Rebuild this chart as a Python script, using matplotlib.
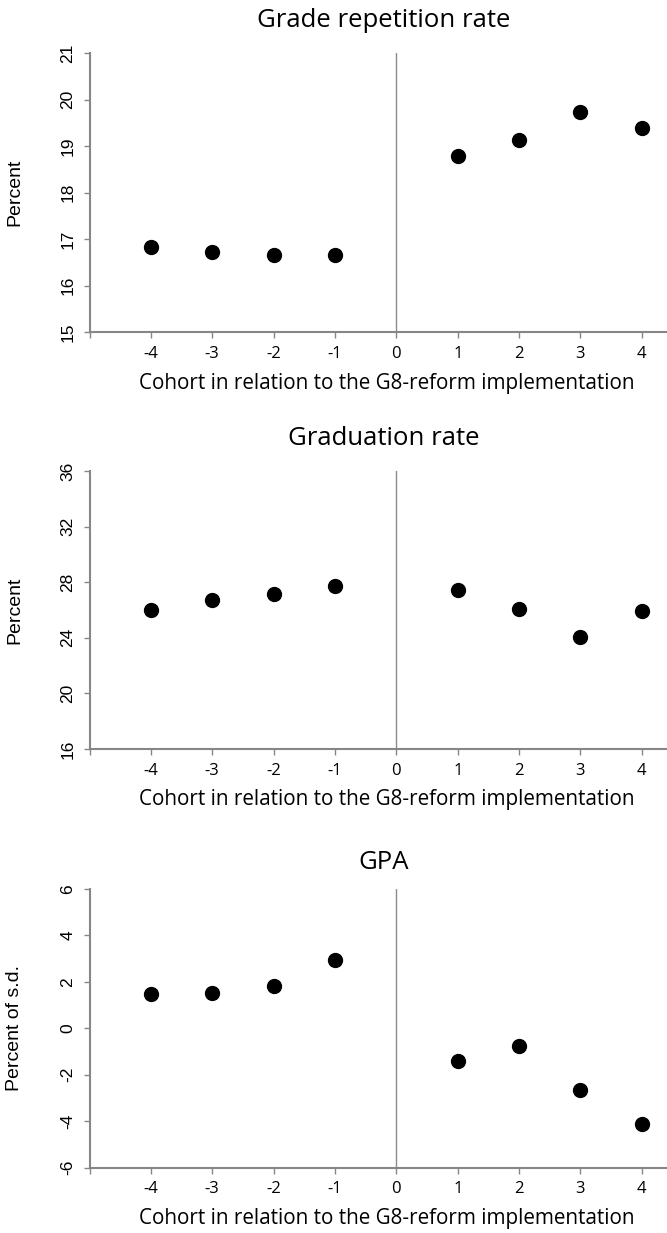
import matplotlib
matplotlib.use("Agg")
import matplotlib.pyplot as plt

# cohorts relative to the G8 reform
cohorts = [-4, -3, -2, -1, 1, 2, 3, 4]
xticks = [-5, -4, -3, -2, -1, 0, 1, 2, 3, 4]
xticklabels = ["", "-4", "-3", "-2", "-1", "0", "1", "2", "3", "4"]

repetition = [16.83, 16.71, 16.65, 16.65, 18.79, 19.13, 19.73, 19.38]
graduation = [26.01, 26.73, 27.16, 27.76, 27.45, 26.08, 24.07, 25.96]
gpa = [1.47, 1.53, 1.83, 2.94, -1.42, -0.78, -2.68, -4.13]

titles = ["Grade repetition rate", "Graduation rate", "GPA"]
ylabels = ["Percent", "Percent", "Percent of s.d."]
yticks = [[15, 16, 17, 18, 19, 20, 21],
          [16, 20, 24, 28, 32, 36],
          [-6, -4, -2, 0, 2, 4, 6]]
xlabel = "Cohort in relation to the G8-reform implementation"

W, H = 667, 1233
fig = plt.figure(figsize=(W / 100, H / 100), dpi=100)

# axes boxes in pixels: (top, bottom)
boxes = [(53, 332), (471, 749), (889, 1167.5)]
title_y = [27, 445, 869]
left_px = 89.5
grey = "#868686"

for i, data in enumerate([repetition, graduation, gpa]):
    top, bot = boxes[i]
    ax = fig.add_axes([left_px / W, 1 - bot / H, (W - left_px) / W, (bot - top) / H])
    ax.plot(cohorts, data, "o", color="black", markersize=10, zorder=3)
    ax.axvline(0, color="#8c8c8c", lw=1.0, zorder=1)
    ax.set_xlim(-5, 4.41)
    ax.set_ylim(yticks[i][0], yticks[i][-1])
    ax.set_yticks(yticks[i])
    ax.set_yticklabels([str(v) for v in yticks[i]], rotation=90, va="center",
                       family="Liberation Sans", fontsize=12.5)
    ax.set_xticks(xticks)
    ax.set_xticklabels(xticklabels, family="Open Sans", fontsize=12)
    for s in ["top", "right"]:
        ax.spines[s].set_visible(False)
    for s in ["left", "bottom"]:
        ax.spines[s].set_color(grey)
        ax.spines[s].set_linewidth(1.5)
    ax.tick_params(axis="both", colors=grey, length=4, width=1)
    ax.tick_params(axis="x", labelcolor="black", pad=6)
    ax.tick_params(axis="y", labelcolor="black", pad=6)
    ax.set_ylabel(ylabels[i], family="Liberation Sans", fontsize=14)
    ax.yaxis.set_label_coords((23 - left_px) / (W - left_px), 0.5)
    ax.set_xlabel(xlabel, family="Open Sans", fontsize=14.9)
    ax.xaxis.set_label_coords((386.5 - left_px) / (W - left_px), -(51) / (bot - top))
    ax.xaxis.label.set_va("center")
    fig.text(384 / W, 1 - title_y[i] / H, titles[i], family="Open Sans", fontsize=18.5,
             ha="center", va="baseline")

fig.savefig("out.png", dpi=100)
